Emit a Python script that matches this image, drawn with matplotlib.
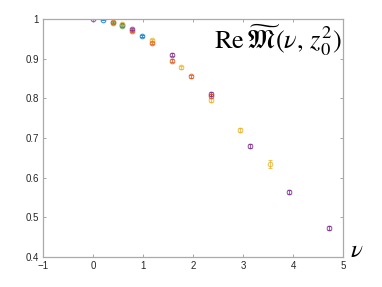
import numpy as np
import matplotlib
matplotlib.use("Agg")
import matplotlib.pyplot as plt

plt.rcParams['mathtext.fontset'] = 'stix'
plt.rcParams['font.family'] = ['Liberation Sans', 'DejaVu Sans']

# series (nu values, Re M values, errors)
purple_x = [0.0, 0.785, 1.571, 2.356, 3.142, 3.927, 4.712]
purple_y = [1.000, 0.975, 0.910, 0.810, 0.680, 0.563, 0.473]
purple_e = [0.001, 0.003, 0.004, 0.005, 0.005, 0.005, 0.005]

orange_x = [0.393, 0.785, 1.178, 1.571, 1.963, 2.356]
orange_y = [0.992, 0.970, 0.940, 0.895, 0.855, 0.807]
orange_e = [0.002, 0.003, 0.003, 0.004, 0.004, 0.005]

yellow_x = [0.589, 1.178, 1.767, 2.356, 2.945, 3.534]
yellow_y = [0.987, 0.946, 0.878, 0.795, 0.720, 0.635]
yellow_e = [0.002, 0.003, 0.004, 0.005, 0.006, 0.010]

blue_x = [0.196, 0.589, 0.982]
blue_y = [0.998, 0.984, 0.957]
blue_e = [0.001, 0.002, 0.003]

green_x = [0.393, 0.589]
green_y = [0.990, 0.982]
green_e = [0.002, 0.002]

xticks = [-1, 0, 1, 2, 3, 4, 5]
yticks = [0.4, 0.5, 0.6, 0.7, 0.8, 0.9, 1.0]
ytick_labels = ['0.4', '0.5', '0.6', '0.7', '0.8', '0.9', '1']

fig = plt.figure(figsize=(3.82, 2.87), dpi=100)
ax = fig.add_axes([0.1126, 0.1045, 0.7854, 0.8295])

series = [
    (green_x, green_y, green_e, (0.466, 0.674, 0.188), 'o'),
    (blue_x, blue_y, blue_e, (0.0, 0.447, 0.741), 'o'),
    (yellow_x, yellow_y, yellow_e, (0.929, 0.694, 0.125), 'o'),
    (orange_x, orange_y, orange_e, (0.85, 0.325, 0.098), 'o'),
    (purple_x, purple_y, purple_e, (0.494, 0.184, 0.556), 'o'),
]
for xs, ys, es, c, m in series:
    ax.errorbar(xs, ys, yerr=es, fmt=m, ms=3.3, mfc='none', mec=c, mew=0.8,
                ecolor=c, elinewidth=0.7, capsize=1.2, alpha=0.75)

ax.set_xlim(-1, 5)
ax.set_ylim(0.4, 1.0)
ax.set_xticks(xticks)
ax.set_yticks(yticks)
ax.set_yticklabels(ytick_labels)
ax.tick_params(direction='in', length=2.5, width=0.6, color='#999999',
               labelsize=7, labelcolor='#262626', top=True, right=True, pad=3)
for s in ax.spines.values():
    s.set_color('#aaaaaa')
    s.set_linewidth(0.9)

ax.text(0.995, 0.985, r'$\mathrm{Re}\,\widetilde{\mathfrak{M}}(\nu,\, z_0^2)$',
        transform=ax.transAxes, ha='right', va='top', fontsize=19)
fig.text(0.935, 0.13, r'$\nu$', fontsize=18, ha='center', va='center')

fig.savefig('out.png', dpi=100)
